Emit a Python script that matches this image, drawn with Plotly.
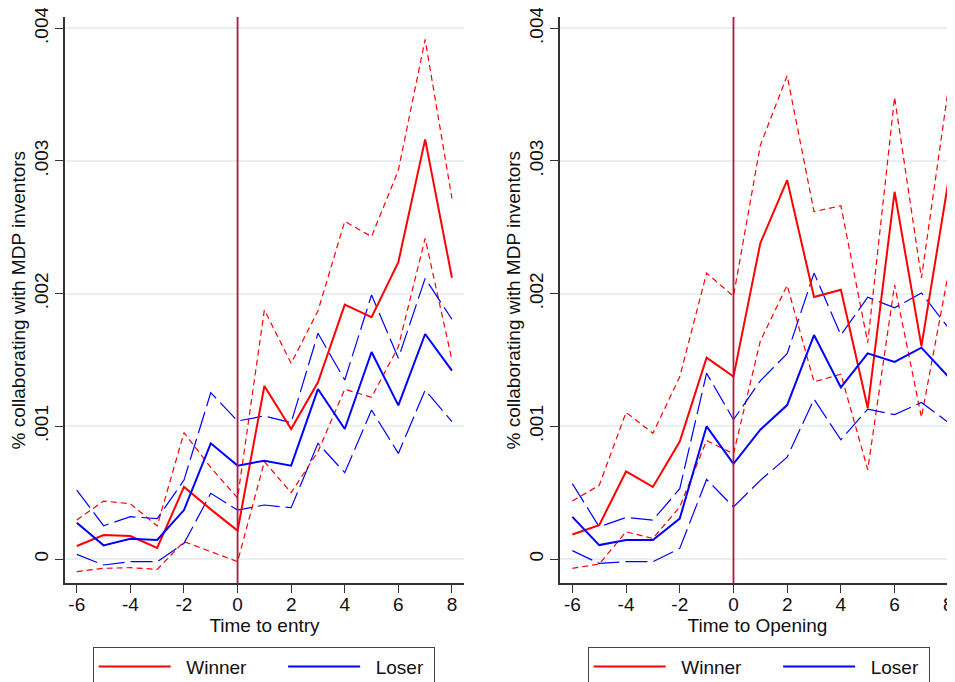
import plotly.graph_objects as go

# ---------------- data ----------------
t = [-6, -5, -4, -3, -2, -1, 0, 1, 2, 3, 4, 5, 6, 7, 8]

# Panel 1: Time to entry (values in units of 0.001)
entry_winner = [0.098, 0.181, 0.173, 0.083, 0.543, 0.374, 0.214, 1.304, 0.980, 1.332, 1.917, 1.822, 2.238, 3.163, 2.120]
entry_winner_hi = [0.294, 0.437, 0.417, 0.249, 0.952, 0.690, 0.460, 1.877, 1.475, 1.870, 2.545, 2.430, 2.930, 3.916, 2.718]
entry_winner_lo = [-0.095, -0.070, -0.065, -0.078, 0.131, 0.055, -0.020, 0.734, 0.500, 0.809, 1.279, 1.219, 1.600, 2.417, 1.500]
entry_loser = [0.274, 0.103, 0.153, 0.143, 0.369, 0.872, 0.704, 0.741, 0.704, 1.281, 0.980, 1.560, 1.158, 1.696, 1.420]
entry_loser_hi = [0.520, 0.251, 0.319, 0.304, 0.595, 1.254, 1.040, 1.078, 1.028, 1.701, 1.349, 1.990, 1.513, 2.115, 1.807]
entry_loser_lo = [0.035, -0.045, -0.020, -0.020, 0.118, 0.495, 0.369, 0.407, 0.387, 0.872, 0.651, 1.123, 0.796, 1.274, 1.035]

# Panel 2: Time to Opening (values in units of 0.001)
open_winner = [0.185, 0.255, 0.660, 0.543, 0.885, 1.518, 1.375, 2.380, 2.855, 1.975, 2.030, 1.138, 2.768, 1.605, 2.843]
open_winner_hi = [0.438, 0.555, 1.105, 0.948, 1.373, 2.155, 1.980, 3.118, 3.643, 2.618, 2.663, 1.630, 3.480, 2.118, 3.543]
open_winner_lo = [-0.070, -0.038, 0.205, 0.155, 0.393, 0.893, 0.793, 1.643, 2.063, 1.335, 1.393, 0.673, 2.067, 1.068, 2.150]
open_loser = [0.318, 0.105, 0.143, 0.143, 0.305, 1.000, 0.718, 0.975, 1.160, 1.688, 1.293, 1.550, 1.485, 1.593, 1.375]
open_loser_hi = [0.568, 0.243, 0.313, 0.293, 0.530, 1.400, 1.050, 1.343, 1.548, 2.155, 1.688, 1.973, 1.893, 2.005, 1.743]
open_loser_lo = [0.063, -0.033, -0.020, -0.020, 0.080, 0.600, 0.393, 0.593, 0.768, 1.205, 0.898, 1.130, 1.088, 1.180, 1.030]

x_ticks = [-6, -4, -2, 0, 2, 4, 6, 8]
x_ticktext = ["-6", "-4", "-2", "0", "2", "4", "6", "8"]
y_ticks = [0, 0.001, 0.002, 0.003, 0.004]
y_ticktext = ["0", ".001", ".002", ".003", ".004"]
x_titles = ["Time to entry", "Time to Opening"]
y_title = "% collaborating with MDP inventors"
series_names = ["Winner", "Loser"]

# ---------------- style ----------------
RED = "#ff0000"
BLUE = "#0000ff"
VLINE = "#b8143e"
GRID = "#e9f0f1"
AXIS = "#333333"
FONT = "Liberation Sans, Arial, Helvetica, sans-serif"
FS = 19
NB = "\u00a0"

def scale(v):
    return [x / 1000.0 for x in v]

# legend labels: padded so the two entries sit where the reference puts them
leg_labels = [NB * 2 + series_names[0] + NB * 6, NB * 2 + series_names[1] + NB]

fig = go.Figure()

panels = [
    ("x", "y", "legend", entry_winner, entry_winner_hi, entry_winner_lo,
     entry_loser, entry_loser_hi, entry_loser_lo),
    ("x2", "y2", "legend2", open_winner, open_winner_hi, open_winner_lo,
     open_loser, open_loser_hi, open_loser_lo),
]

for xa, ya, lg, w, whi, wlo, l, lhi, llo in panels:
    for vals in (whi, wlo):
        fig.add_trace(go.Scatter(x=t, y=scale(vals), xaxis=xa, yaxis=ya, mode="lines",
                                 line=dict(color=RED, width=1.2, dash="6px,4px"),
                                 showlegend=False, hoverinfo="skip"))
    for vals in (lhi, llo):
        fig.add_trace(go.Scatter(x=t, y=scale(vals), xaxis=xa, yaxis=ya, mode="lines",
                                 line=dict(color=BLUE, width=1.2, dash="22px,6px"),
                                 showlegend=False, hoverinfo="skip"))
    fig.add_trace(go.Scatter(x=t, y=scale(w), xaxis=xa, yaxis=ya, mode="lines",
                             name=leg_labels[0], legend=lg,
                             line=dict(color=RED, width=2)))
    fig.add_trace(go.Scatter(x=t, y=scale(l), xaxis=xa, yaxis=ya, mode="lines",
                             name=leg_labels[1], legend=lg,
                             line=dict(color=BLUE, width=2)))

H = 682.0
W = 955.0
OFF = 8.0  # page body margin offset
ydom = [1 - (583.3 - OFF) / H, 1 - (17 - OFF) / H]

common_x = dict(tickmode="array", tickvals=x_ticks, ticktext=x_ticktext,
                ticks="outside", ticklen=8, tickcolor=AXIS, showline=True, linecolor=AXIS,
                linewidth=1.5, showgrid=False, zeroline=False,
                tickfont=dict(family=FONT, size=FS, color="#111111"),
                ticklabelstandoff=-5, ticklabeloverflow="allow")
common_y = dict(range=[-0.000183, 0.004085], tickmode="array", tickvals=y_ticks,
                ticktext=y_ticktext, tickangle=-90, ticks="outside", ticklen=8,
                tickcolor=AXIS, showline=True, linecolor=AXIS, linewidth=1.5,
                showgrid=True, gridcolor=GRID, gridwidth=1.5, zeroline=False,
                tickfont=dict(family=FONT, size=FS, color="#111111"),
                ticklabelstandoff=0, ticklabeloverflow="allow")

leg = dict(orientation="h", xanchor="left", y=1 - (646.7 - OFF) / H, yanchor="top",
           bordercolor="#444444", borderwidth=1, bgcolor="white",
           itemwidth=72, font=dict(family=FONT, size=FS))

fig.update_layout(
    width=955, height=682,
    margin=dict(l=0, r=0, t=0, b=0, autoexpand=False),
    paper_bgcolor="white", plot_bgcolor="white",
    font=dict(family=FONT, size=FS, color="#111111"),
    xaxis=dict(domain=[(65 - OFF) / W, (464 - OFF) / W], anchor="y", range=[-6.44, 8.45],
               title=dict(text=x_titles[0], font=dict(family=FONT, size=FS), standoff=0),
               **common_x),
    yaxis=dict(domain=ydom, anchor="x",
               title=dict(text=y_title, font=dict(family=FONT, size=FS), standoff=0),
               **common_y),
    xaxis2=dict(domain=[(560 - OFF) / W, (955 - OFF) / W], anchor="y2", range=[-6.46, 8.25],
                title=dict(text=x_titles[1], font=dict(family=FONT, size=FS), standoff=0),
                **common_x),
    yaxis2=dict(domain=ydom, anchor="x2",
                title=dict(text=y_title, font=dict(family=FONT, size=FS), standoff=0),
                **common_y),
    legend=dict(x=(92.7 - OFF) / W, **leg),
    legend2=dict(x=(587.7 - OFF) / W, **leg),
    shapes=[
        dict(type="line", xref="x", yref="y domain", x0=0, x1=0, y0=0, y1=1,
             line=dict(color=VLINE, width=1.8), layer="above"),
        dict(type="line", xref="x2", yref="y2 domain", x0=0, x1=0, y0=0, y1=1,
             line=dict(color=VLINE, width=1.8), layer="above"),
    ],
)

fig.write_html("out.html")
